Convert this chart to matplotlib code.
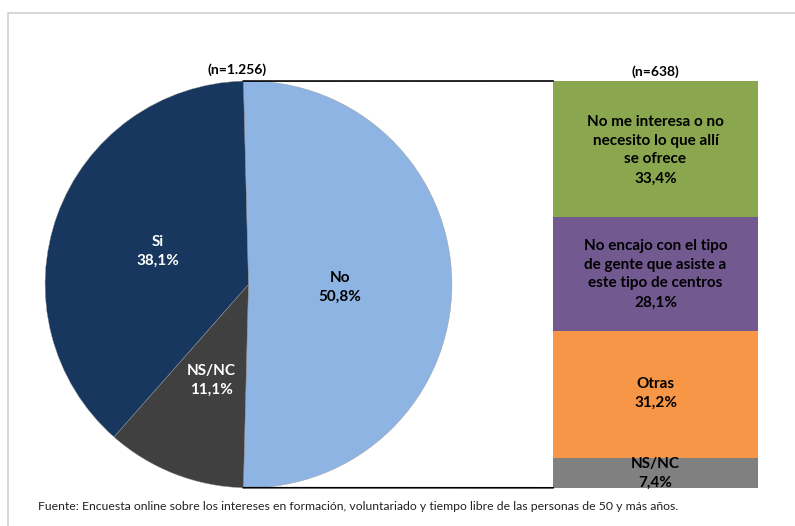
import matplotlib
matplotlib.use("Agg")
import matplotlib.pyplot as plt
import numpy as np

plt.rcParams['font.family'] = ['Lato', 'DejaVu Sans']

# Data
pie_labels = ["No", "NS/NC", "Si"]
pie_values = [50.8, 11.1, 38.1]
pie_colors = ["#8EB4E3", "#404040", "#17375E"]
pie_text_colors = ["black", "white", "white"]
pie_n = "(n=1.256)"

bar_labels = ["No me interesa o no\nnecesito lo que allí\nse ofrece",
              "No encajo con el tipo\nde gente que asiste a\neste tipo de centros",
              "Otras",
              "NS/NC"]
bar_values = [33.4, 28.1, 31.2, 7.4]
bar_colors = ["#8AA64F", "#725990", "#F79646", "#808080"]
bar_n = "(n=638)"

footer = "Fuente: Encuesta online sobre los intereses en formación, voluntariado y tiempo libre de las personas de 50 y más años."

W, H = 795, 526
fig = plt.figure(figsize=(W / 100, H / 100), dpi=100)
ax = fig.add_axes([0, 0, 1, 1])

def Y(yp):
    return H - yp

# pie
cx, cy, r = 248.5, Y(284.4), 203.4
span0 = pie_values[0] / 100 * 360
start = span0 / 2
wedges, _ = ax.pie(pie_values, colors=pie_colors, startangle=start, counterclock=False,
                   center=(cx, cy), radius=r, frame=True,
                   wedgeprops=dict(edgecolor="#9a9a9a", linewidth=0.3))
ax.set_xlim(0, W)
ax.set_ylim(0, H)
ax.set_aspect('equal')
ax.axis('off')

# frame
ax.plot([8, 8, W + 5], [Y(H + 5), Y(13), Y(13)], color="#d0d0d0", lw=1.2, clip_on=False)

label_pos = [(340, 287), (211, 380), (158, 251)]
for lab, v, tc, (px, py) in zip(pie_labels, pie_values, pie_text_colors, label_pos):
    ax.text(px, Y(py), f"{lab}\n{v:.1f}%".replace('.', ','), ha='center', va='center',
            color=tc, fontsize=11, fontweight='bold', linespacing=1.45)

ax.text(237, Y(70), pie_n, ha='center', va='center', fontsize=10, fontweight='bold')

# bar
bx0, bw = 553, 205
total_h = 2 * r
tot = sum(bar_values)
heights = [v / tot * total_h for v in bar_values]
top = cy + r
bottoms = []
cur = top
for h in heights:
    cur -= h
    bottoms.append(cur)
ax.bar([bx0 + bw / 2] * 4, heights, bottom=bottoms, width=bw, color=bar_colors, linewidth=0)

bar_label_pos = [150, 274, 393, 473]
for lab, v, py in zip(bar_labels, bar_values, bar_label_pos):
    ax.text(bx0 + bw / 2, Y(py), f"{lab}\n{v:.1f}%".replace('.', ','), ha='center', va='center',
            color='black', fontsize=11, fontweight='bold', linespacing=1.45)

ax.text(bx0 + bw / 2, Y(72), bar_n, ha='center', va='center', fontsize=10, fontweight='bold')

# connectors
ang = np.deg2rad(start)
x_top = cx + r * np.cos(ang)
y_top = cy + r * np.sin(ang)
ang2 = np.deg2rad(start - span0)
x_bot = cx + r * np.cos(ang2)
y_bot = cy + r * np.sin(ang2)
ax.plot([x_top, bx0], [y_top, top], color='black', lw=1.2)
ax.plot([x_bot, bx0], [y_bot, top - total_h], color='black', lw=1.2)

ax.text(38, Y(507), footer, ha='left', va='center', fontsize=8.8, color='#222222')

fig.savefig("out.png", dpi=100)
